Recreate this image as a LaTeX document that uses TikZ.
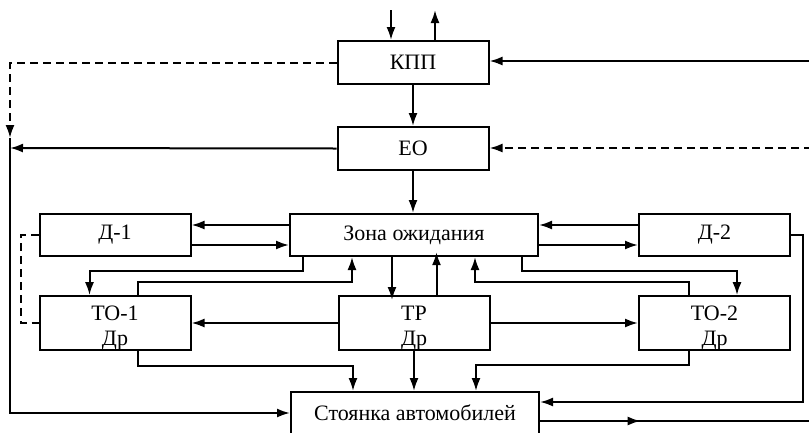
\documentclass[tikz,border=0pt]{standalone}
\usepackage{fontspec}
\setmainfont{Liberation Serif}
\usetikzlibrary{arrows.meta,decorations.markings}

\newcommand{\lowstrut}{\rule{0pt}{24pt}}

\begin{document}
\begin{tikzpicture}[x=1pt,y=-1pt,
  line width=2pt,
  >={Latex[length=13pt,width=9pt]},
  box/.style={draw, line width=2pt, inner sep=0pt, align=center,
    font=\fontsize{22}{25}\selectfont},
  wide/.style={box, minimum width=248pt, minimum height=42pt},
  unit/.style={box, minimum width=151pt, minimum height=43pt},
  post/.style={box, minimum width=151pt, minimum height=48pt},
  dsh/.style={dash pattern=on 8pt off 5pt}]

\useasboundingbox (0,0) rectangle (809,432);
\clip (0,0) rectangle (809,432);

% blocks
\node[unit] (kpp) at (413,62.5) {КПП};
\node[unit] (eo)  at (413,148.5) {ЕО};
\node[wide] (zona) at (414,235) {Зона ожидания};
\node[unit, minimum height=42pt] (d1) at (115,235) {Д-1};
\node[unit, minimum height=42pt] (d2) at (714.5,235) {Д-2};
\node[post] (to1) at (115,323) {\lowstrut ТО-1\\Др};
\node[post] (tr)  at (414,323) {\lowstrut ТР\\Др};
\node[post] (to2) at (714.5,323) {\lowstrut ТО-2\\Др};
\node[wide] (st) at (415,413) {Стоянка автомобилей};

% free ends
\coordinate (in1) at (391,10);
\coordinate (out1) at (435,10);
\coordinate (rk) at (812,61);
\coordinate (re) at (812,148);
\coordinate (lj) at (10,148);
\coordinate (ltop) at (10,138);
\coordinate (rout) at (812,421);

% entry and exit at the checkpoint
\draw[->] (in1) -- (in1 |- kpp.north);
\draw[->] (out1 |- kpp.north) -- (out1);
\draw[->] (rk) -- (rk -| kpp.east);
\draw[->, dsh] (re) -- (re -| eo.east);

% checkpoint -> washing -> waiting zone
\draw[->] (kpp.south) -- (kpp.south |- eo.north);
\draw[->] (eo.south) -- (eo.south |- zona.north);

% bypass to the parking
\draw[->, dsh] (kpp.west) -| (ltop);
\draw[->] (eo.west) -- (lj);
\draw[->] (ltop) |- (st.west);

% diagnostics
\draw[->] ([yshift=10]zona.west) -- ([yshift=10]d1.east);
\draw[->] ([yshift=-10]d1.east) -- ([yshift=-10]zona.west);
\draw[->] ([yshift=10]d2.west) -- ([yshift=10]zona.east);
\draw[->] ([yshift=-10]zona.east) -- ([yshift=-10]d2.west);
\draw[dsh] (d1.west) -- ++(-18,0) |- (to1.west);

% waiting zone <-> service posts
\draw[->] ([xshift=14]zona.south west) -- ++(0,14) -| ([xshift=51]to1.north west);
\draw[->] ([xshift=99]to1.north west) -- ++(0,-13) -| ([xshift=63]zona.south west);
\draw[->] ([xshift=103]zona.south west) -- ++(0,43);
\draw[->] ([xshift=99]tr.north west) -- ++(0,-43);
\draw[->] ([xshift=51]to2.north west) -- ++(0,-13) -| ([xshift=186]zona.south west);
\draw[->] ([xshift=233]zona.south west) -- ++(0,14) -| ([xshift=99]to2.north west);

% repair -> maintenance
\draw[->] (tr.west) -- (to1.east);
\draw[->] (tr.east) -- (to2.west);

% service posts -> parking
\draw[->] ([xshift=99]to1.south west) -- ++(0,15) -| ([xshift=63]st.north west);
\draw[->] (tr.south) -- (tr.south |- st.north);
\draw[->] ([xshift=51]to2.south west) -- ++(0,14) -| ([xshift=186]st.north west);
\draw[->] (d2.east) -- ++(12,0) |- ([yshift=11]st.east);

% parking -> exit
\draw[decoration={markings, mark=at position 0.37 with {\arrow{Latex[length=13pt,width=9pt]}}},
      postaction={decorate}]
  ([yshift=-8]st.east) -- (rout);
\end{tikzpicture}
\end{document}
